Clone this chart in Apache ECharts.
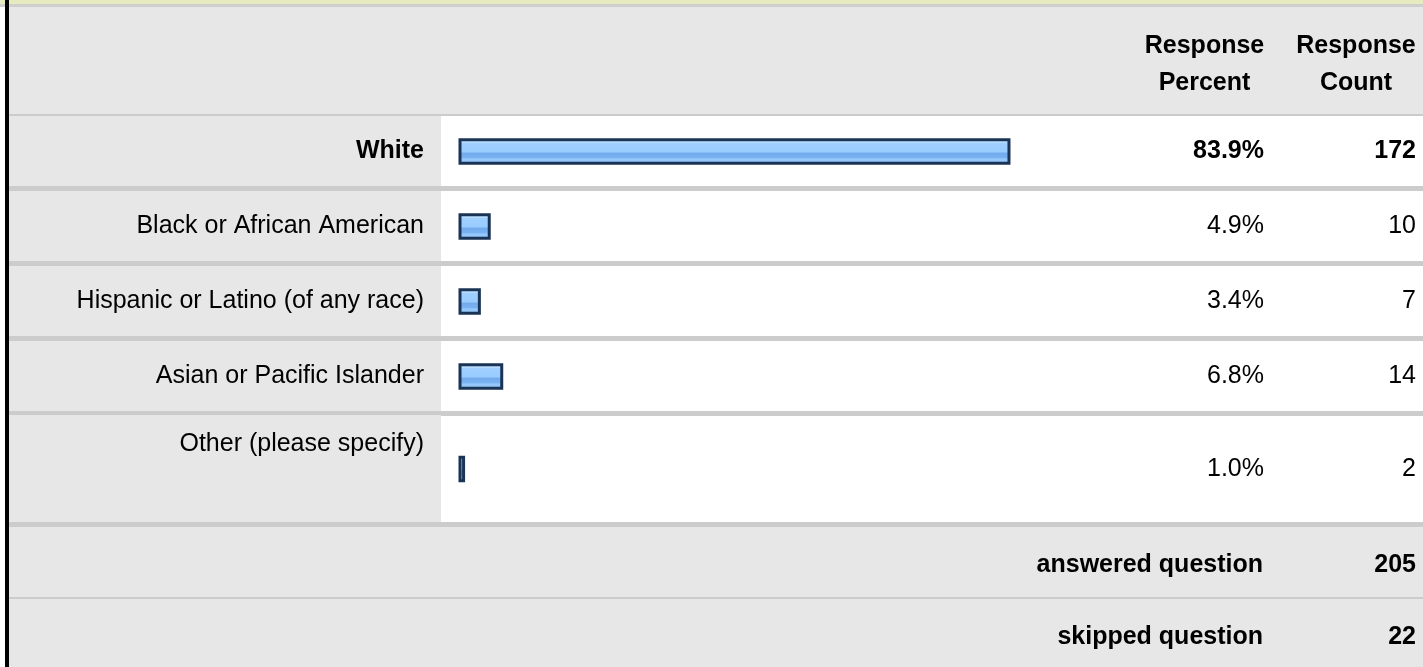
<!DOCTYPE html>
<html>
<head>
<meta charset="utf-8">
<script src="https://cdn.jsdelivr.net/npm/echarts@6/dist/echarts.min.js"></script>
<style>
html,body{margin:0;padding:0;background:#fff;}
#chart{width:1423px;height:667px;}
</style>
</head>
<body>
<div id="chart"></div>
<script>
// ---- data ----
var categories = ['White', 'Black or African American', 'Hispanic or Latino (of any race)', 'Asian or Pacific Islander', 'Other (please specify)'];
var percentValues = [83.9, 4.9, 3.4, 6.8, 1.0];
var percentLabels = ['83.9%', '4.9%', '3.4%', '6.8%', '1.0%'];
var countValues = [172, 10, 7, 14, 2];
var headerLabels = ['Response\nPercent', 'Response\nCount'];
var summaryLabels = ['answered question', 'skipped question'];
var summaryValues = [205, 22];

var FONT = '"Liberation Sans", Arial, sans-serif';
var FS = 25;
var mainCats = categories.slice(0, 4);
var lastCats = categories.slice(4);

var barGradient = new echarts.graphic.LinearGradient(0, 0, 0, 1, [
  {offset: 0, color: '#cfe7ff'},
  {offset: 0.16, color: '#b6dbff'},
  {offset: 0.2, color: '#9fcfff'},
  {offset: 0.52, color: '#99ccff'},
  {offset: 0.56, color: '#72aaec'},
  {offset: 0.74, color: '#7ab3f2'},
  {offset: 0.78, color: '#97c9fc'},
  {offset: 1, color: '#8cc1f7'}
]);

var GL = 458.5, GR = 1423 - 458.5 - 657.9;
var rightEdge = 1423 - GR;

function labelAxis(gi, data, bold0) {
  return {
    type: 'category', gridIndex: gi, inverse: true, data: data,
    axisLine: {show: false}, axisTick: {show: false},
    axisLabel: {
      margin: GL - 424, fontFamily: FONT, fontSize: FS, color: '#000',
      formatter: function (v, i) {
        if (bold0 && i === 0) return '{b|' + v + '}';
        if (gi === 1) return '{t|' + v + '}';
        return v;
      },
      rich: {
        b: {fontWeight: 'bold', fontFamily: FONT, fontSize: FS, color: '#000'},
        t: {fontFamily: FONT, fontSize: FS, color: '#000', padding: [0, 0, 50, 0]}
      }
    }
  };
}
function rightAxis(gi, data, edge, bold0) {
  return {
    type: 'category', gridIndex: gi, inverse: true, position: 'right', data: data,
    axisLine: {show: false}, axisTick: {show: false},
    axisLabel: {
      margin: edge - rightEdge, align: 'right', fontFamily: FONT, fontSize: FS, color: '#000',
      formatter: function (v, i) { return (bold0 && i === 0) ? '{b|' + v + '}' : String(v); },
      rich: {b: {fontWeight: 'bold', fontFamily: FONT, fontSize: FS, color: '#000'}}
    }
  };
}

var graphics = [];
function rect(x, y, w, h, c) { graphics.push({type: 'rect', silent: true, z: -10, shape: {x: x, y: y, width: w, height: h}, style: {fill: c}}); }
// backgrounds
rect(0, 0, 1423, 667, '#ffffff');
rect(0, 0, 1423, 5, '#e5eabf');
rect(0, 4, 1423, 3, '#cfcfcf');
rect(9, 7, 1414, 107, '#e7e7e7');
rect(9, 114, 1414, 2, '#cccccc');
for (var r = 0; r < 4; r++) {
  rect(9, 116 + 75 * r, 432, 70, '#e7e7e7');
  rect(9, 186 + 75 * r, 1414, 5, '#cccccc');
}
rect(9, 415, 432, 107, '#e7e7e7');
rect(9, 522, 1414, 5, '#cccccc');
rect(9, 527, 1414, 70, '#e7e7e7');
rect(9, 597, 1414, 2, '#cccccc');
rect(9, 599, 1414, 68, '#e7e7e7');
rect(5, 0, 4, 667, '#000000');

// header texts
var hx = [1204.5, 1356];
headerLabels.forEach(function (t, i) {
  graphics.push({type: 'text', silent: true, x: hx[i], y: 64.5, style: {text: t, fontFamily: FONT, fontSize: FS, fontWeight: 'bold', fill: '#000', align: 'center', verticalAlign: 'middle', lineHeight: 37}});
});
// summary texts
var sy = [565, 637];
summaryLabels.forEach(function (t, i) {
  graphics.push({type: 'text', silent: true, x: 1263, y: sy[i], style: {text: t, fontFamily: FONT, fontSize: FS, fontWeight: 'bold', fill: '#000', align: 'right', verticalAlign: 'middle'}});
  graphics.push({type: 'text', silent: true, x: 1416, y: sy[i], style: {text: String(summaryValues[i]), fontFamily: FONT, fontSize: FS, fontWeight: 'bold', fill: '#000', align: 'right', verticalAlign: 'middle'}});
});

var barStyle = {color: barGradient, borderColor: '#1b3456', borderWidth: 3};

var option = {
  animation: false,
  graphic: graphics,
  grid: [
    {left: GL, right: GR, top: 114, height: 300},
    {left: GL, right: GR, top: 414, height: 110}
  ],
  xAxis: [
    {type: 'value', gridIndex: 0, min: 0, max: 100, show: false},
    {type: 'value', gridIndex: 1, min: 0, max: 100, show: false}
  ],
  yAxis: [
    labelAxis(0, mainCats, true),
    rightAxis(0, percentLabels.slice(0, 4), 1264, true),
    rightAxis(0, countValues.slice(0, 4), 1416, true),
    labelAxis(1, lastCats, false),
    rightAxis(1, percentLabels.slice(4), 1264, false),
    rightAxis(1, countValues.slice(4), 1416, false)
  ],
  series: [
    {type: 'bar', xAxisIndex: 0, yAxisIndex: 0, data: percentValues.slice(0, 4), barWidth: 26.5, itemStyle: barStyle},
    {type: 'bar', xAxisIndex: 1, yAxisIndex: 3, data: percentValues.slice(4), barWidth: 26.5, itemStyle: barStyle}
  ]
};
var chart = echarts.init(document.getElementById('chart'), null, {renderer: 'canvas'});
chart.setOption(option);
</script>
</body>
</html>
